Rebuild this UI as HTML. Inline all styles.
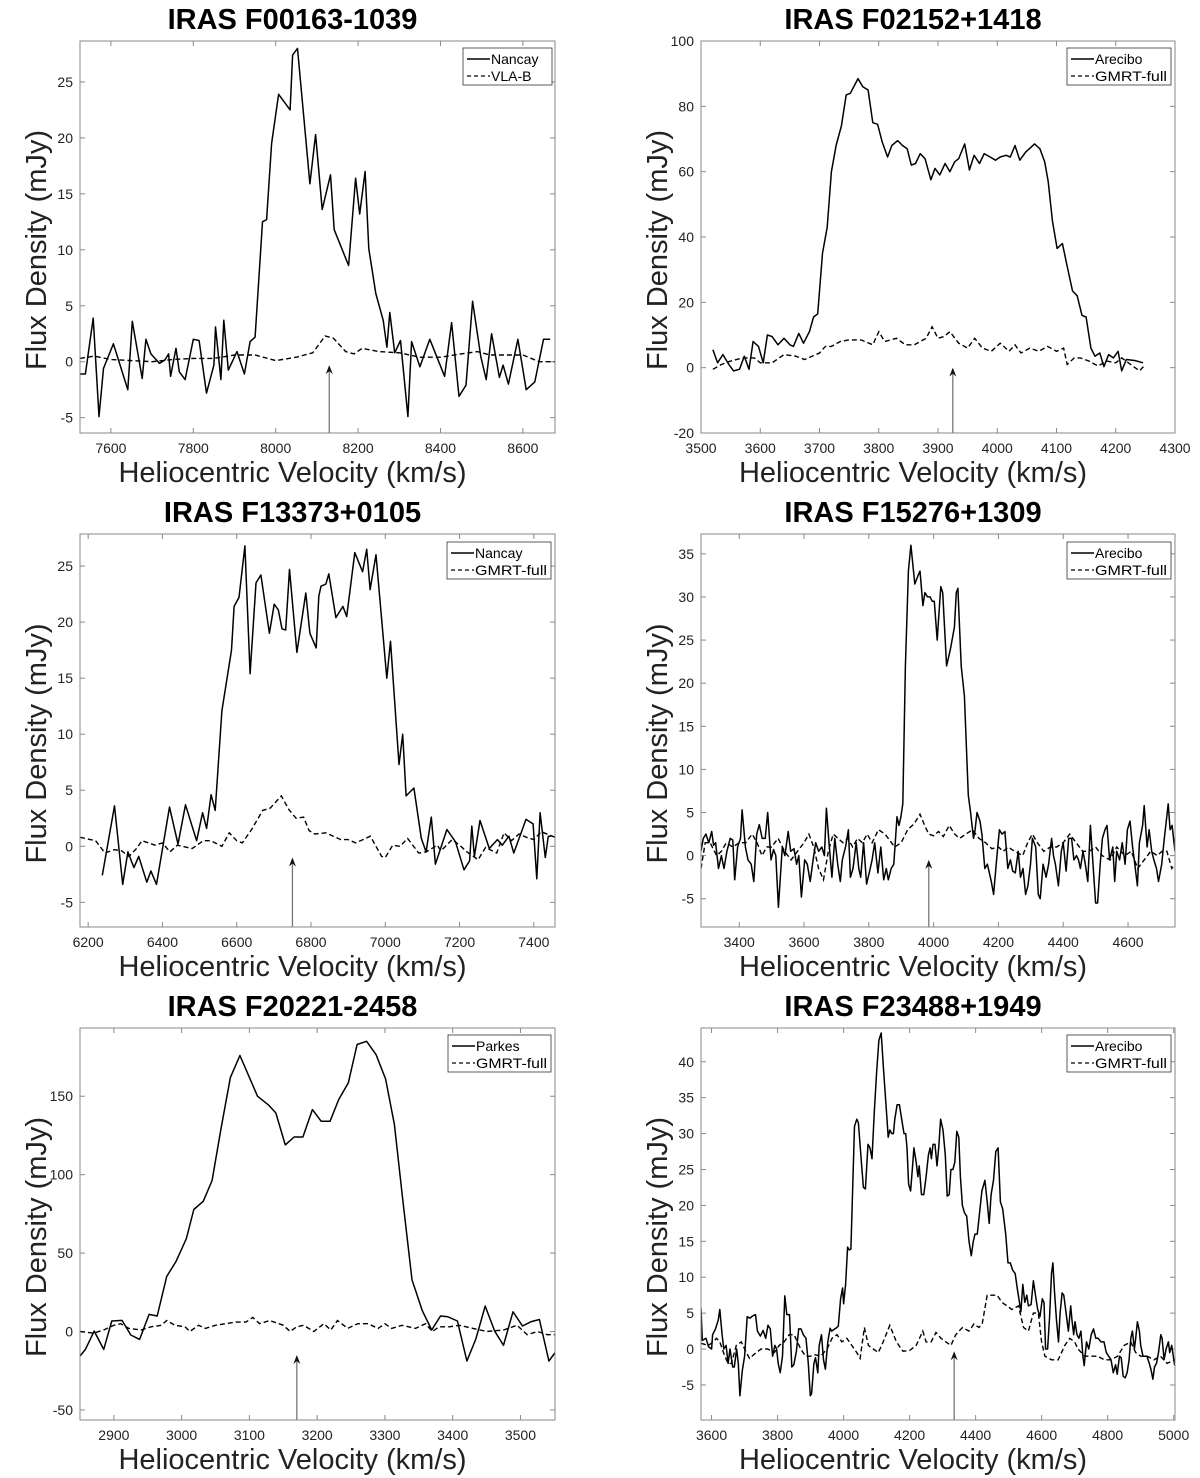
<!DOCTYPE html>
<html><head><meta charset="utf-8">
<style>
html,body{margin:0;padding:0;background:#fff;}
svg{display:block;font-family:"Liberation Sans",Arial,sans-serif;}
</style></head>
<body>
<svg id="fig" width="1200" height="1478" viewBox="0 0 1200 1478" xmlns="http://www.w3.org/2000/svg"></svg>
<script>
// ---------- Panel 1: IRAS F00163-1039 ----------
const p1SolidV = [7524,7538,7557,7571,7582,7606,7641,7652,7676,7685,7697,7718,7731,7740,7745,7758,7766,7780,7800,7814,7832,7850,7854,7867,7874,7885,7906,7924,7938,7950,7968,7978,7990,8007,8035,8041,8053,8083,8097,8113,8133,8142,8177,8194,8204,8217,8226,8243,8261,8270,8277,8289,8303,8321,8330,8350,8374,8410,8427,8445,8462,8478,8498,8511,8524,8543,8552,8565,8588,8608,8629,8650,8666];
const p1SolidF = [-1.1,-1.1,3.9,-4.9,-0.6,1.6,-2.5,3.6,-1.5,2,0.7,-0.15,0.15,0.7,-1.3,1.2,-0.9,-1.6,2,1.9,-2.8,-0.3,3.1,-1.6,3.7,-0.75,0.9,-1.1,1.8,2.2,12.5,12.7,19.5,23.9,22.5,27.4,28,15.9,20.3,13.6,16.7,11.8,8.6,16.4,13.2,17,10.1,6.1,3.7,1.3,4.4,0.8,1.9,-4.9,1.8,-0.45,2,-1.3,3.5,-3.1,-2.1,5.4,0.45,-1.6,2.5,-1.4,-0.3,-2,2,-2.5,-1.8,2,2];
const p1DashV = [7525,7560,7600,7650,7700,7750,7800,7850,7900,7950,8000,8050,8090,8120,8140,8170,8190,8210,8250,8300,8350,8400,8450,8490,8520,8560,8600,8640,8678];
const p1DashF = [0.3,0.5,0.2,0.1,0.0,0.2,0.3,0.3,0.6,0.6,0.1,0.4,0.8,2.3,2.1,0.9,0.7,1.2,0.9,0.8,0.4,0.4,0.7,0.9,0.6,0.6,0.6,0.0,0.0];
const p1XTicks = [7600,7800,8000,8200,8400,8600];
const p1YTicks = [-5,0,5,10,15,20,25];

// ---------- Panel 2: IRAS F02152+1418 ----------
const p2SolidV = [3520,3528,3537,3547,3555,3565,3573,3581,3588,3597,3605,3612,3620,3630,3640,3650,3656,3665,3673,3683,3690,3697,3705,3713,3720,3728,3737,3745,3752,3765,3773,3782,3790,3798,3806,3815,3822,3832,3840,3848,3855,3862,3870,3878,3888,3895,3903,3912,3920,3928,3935,3945,3953,3961,3970,3978,3988,3997,4005,4015,4022,4030,4038,4048,4063,4072,4080,4086,4093,4101,4110,4118,4127,4135,4143,4150,4158,4165,4173,4180,4188,4196,4204,4210,4218,4232,4246];
const p2SolidF = [5.5,1.5,4,1,-1,-0.5,3.5,-0.5,8,6.5,1.5,10,9.5,7,9,7,6.5,10.5,7.5,11,15.5,16.5,35,43,60,68,74,83.5,84,88.5,86,85,75,74.5,69,64.5,68,69.5,68,67,62,62.5,65.5,64,57.5,61,59,62.5,60,63,64,68.5,60.5,65,62.5,65.5,64.5,63.5,64.5,65,64.5,68,63.5,66,68.5,67,63,57,45,36.5,38,31,23.5,22,16,15.5,6,3.5,4.5,0.3,4,3,5,-1,2.5,2.2,1.5];
const p2DashV = [3520,3535,3550,3570,3590,3600,3620,3640,3660,3675,3700,3710,3720,3735,3750,3770,3790,3800,3810,3830,3845,3860,3880,3890,3900,3910,3920,3935,3950,3962,3975,3990,4005,4020,4030,4040,4055,4070,4085,4100,4112,4118,4130,4140,4155,4170,4185,4200,4210,4225,4240,4250];
const p2DashF = [-0.5,1,2,3,3,1.5,1.5,4,3.5,2.5,4.5,6.5,6.5,8,8.5,8.5,7,11,8,9,7,7,9,12.5,9,9.5,11,7.5,6,9,6,5,7.5,5,7,4.5,6,5,6.5,5,6,1,3,3,2,0.5,2,1.5,3,1,-1,1];
const p2XTicks = [3500,3600,3700,3800,3900,4000,4100,4200,4300];
const p2YTicks = [-20,0,20,40,60,80,100];

// ---------- Panel 3: IRAS F13373+0105 ----------
const p3SolidV = [6238,6271,6293,6307,6323,6336,6358,6369,6384,6419,6442,6462,6492,6508,6519,6531,6542,6560,6586,6593,6606,6622,6636,6652,6665,6688,6701,6712,6722,6732,6742,6762,6786,6797,6814,6821,6827,6840,6848,6867,6886,6896,6918,6939,6950,6959,6975,7004,7014,7037,7047,7056,7077,7097,7110,7124,7135,7166,7189,7212,7227,7233,7240,7255,7280,7302,7315,7333,7346,7379,7398,7408,7417,7431,7439,7446];
const p3SolidF = [-2.6,3.6,-3.4,-0.5,-1.9,-0.9,-3.2,-2.2,-3.4,3.5,0.2,3.7,0.5,3,1.6,4.6,3.2,12.1,17.5,21.4,22.2,26.8,15.4,23.5,24.2,19,21.6,21.1,19.4,19.3,24.7,17.3,22.6,19,17.7,22.3,23.2,23.4,24.3,20.4,21.4,20.5,26.2,24.5,26.5,22.9,26,15,18.3,7.3,10,4.5,5.2,0.7,-0.5,2.6,-1.6,1.5,0.4,-2.1,-1.3,1.8,-0.9,2.3,-0.2,0.6,0.1,0.9,-0.6,2.4,2,-2.9,3,-1,0.9,0.9];
const p3DashV = [6178,6220,6245,6270,6290,6310,6330,6345,6380,6400,6420,6440,6480,6510,6530,6560,6580,6600,6615,6640,6670,6690,6720,6740,6760,6780,6795,6810,6840,6860,6880,6900,6920,6940,6960,6990,7000,7020,7040,7060,7090,7110,7140,7150,7180,7200,7220,7250,7270,7300,7320,7340,7360,7380,7400,7420,7457];
const p3DashF = [0.8,0.5,-0.6,-0.3,-0.4,-0.9,-0.2,0.5,0.1,0.3,-0.5,0.1,-0.2,0.5,0.5,0,1.2,0.5,0.3,1.5,3.2,3.4,4.5,3.3,2.5,2.6,1.4,1.1,1.2,0.9,0.6,0.6,0.3,0.6,0.9,-0.9,-1,0.1,0,0.7,-0.6,-0.5,0.1,-0.4,0.6,0.1,-0.5,-1.2,-0.1,-0.6,1.2,0.5,1.1,0.8,0.6,1.3,0.8];
const p3XTicks = [6200,6400,6600,6800,7000,7200,7400];
const p3YTicks = [-5,0,5,10,15,20,25];

// ---------- Panel 4: IRAS F15276+1309 ----------
const p4SolidV = [3282,3289,3297,3306,3315,3321,3327,3336,3345,3353,3362,3372,3380,3386,3395,3404,3409,3419,3427,3437,3445,3454,3462,3471,3480,3488,3498,3506,3513,3521,3533,3541,3551,3559,3569,3577,3584,3592,3602,3610,3619,3628,3636,3645,3655,3663,3669,3677,3686,3695,3704,3712,3718,3728,3737,3743,3751,3761,3769,3775,3784,3793,3801,3810,3818,3828,3837,3846,3854,3860,3869,3877,3887,3893,3899,3905,3913,3922,3930,3938,3942,3952,3958,3967,3973,3981,3989,3996,4002,4011,4018,4022,4028,4040,4052,4064,4070,4075,4085,4095,4107,4114,4123,4128,4134,4143,4149,4158,4166,4178,4185,4193,4203,4211,4220,4229,4237,4244,4252,4261,4268,4276,4284,4291,4299,4305,4315,4323,4329,4338,4347,4355,4364,4370,4376,4385,4394,4400,4409,4417,4426,4433,4441,4447,4453,4461,4468,4476,4484,4492,4500,4506,4514,4521,4529,4535,4543,4553,4559,4565,4574,4582,4591,4598,4606,4614,4621,4629,4635,4645,4650,4659,4665,4673,4680,4688,4694,4704,4712,4718,4724,4730,4736,4745];
const p4SolidF = [0.5,2,2.5,1.5,2.8,1.2,1.5,-1.5,0,-1.5,0.5,2,1.8,-2.8,1,2,5.3,1,-0.5,-1,-3,2.5,3.6,2,2,5,-0.5,0.7,0,-6,1,0,2.8,0.5,0.8,-1,0,-4.8,-0.5,-1,-3,-0.5,1.5,0.5,1,0,5.5,1.5,-2.5,2,-1,-3,-0.5,1,3,-2.5,-1.5,1.5,-1.5,-2.5,1.5,-3.3,-2,-0.5,1.5,-2,1,-2.8,-1.5,-2.8,-1.5,-1,4.5,3.5,4.5,6,22,33,36,33,31.5,32.5,33,29,30.5,30,30,29.5,29.5,25,29,31.2,30.5,22,24,26.5,30.5,31,22,18.5,7,5,2,3,5,4,2.5,-1.5,-1,-3,-4.5,-1,3,2.5,2.8,-1.5,-0.5,-1.8,-2,0.5,-2.5,-1.5,-4.5,-3.5,-1,2,1,-4.5,-5,-1,-2.5,-1,2,0,-1,-3.5,0.5,1.5,-1.8,2,2,-0.5,0,-0.5,-1.5,0.5,-1,-3,3.5,-1,-5.5,-5.5,-1,2,3,3.5,-0.5,1,-3,0.5,-0.5,1.5,-1,3,4,1,-1,-3.5,1.5,3.5,5.8,1,3,0.5,-0.5,-1.5,-3,-1,2,4,6,3,3.5,0.5];
const p4DashV = [3282,3295,3310,3330,3345,3360,3380,3400,3420,3440,3455,3470,3485,3500,3520,3540,3560,3580,3600,3615,3630,3645,3660,3675,3690,3705,3720,3735,3750,3765,3780,3795,3810,3830,3850,3860,3880,3900,3920,3940,3958,3972,3985,4000,4015,4030,4048,4065,4080,4100,4120,4140,4160,4180,4200,4215,4230,4250,4275,4290,4305,4320,4340,4360,4380,4400,4420,4440,4460,4480,4500,4520,4545,4565,4590,4610,4630,4650,4670,4690,4705,4720,4735,4745];
const p4DashF = [-1.5,1.5,1.5,0,0.5,1.5,1,1.5,1.5,2.5,1.5,0,1,1,2,0.5,-0.5,0.5,1.5,2.5,1,-1.5,-2.8,0.5,2.5,2,1.5,2,1,2,1.5,2.5,1.5,3,2.5,2,1,1.5,3,3.7,4.8,3.5,2.5,2.3,2.8,2.2,3.5,2.5,2,2.5,3,2,1.5,0.8,1,0.5,1,0.5,0,1.5,2.5,1.5,0.5,1,1,1.5,2.5,1.5,0.5,0.5,1,0,-0.5,1,0,0.5,-1.5,-0.5,0.5,0,0.5,0.5,-1.5,-1];
const p4XTicks = [3400,3600,3800,4000,4200,4400,4600];
const p4YTicks = [-5,0,5,10,15,20,25,30,35];

// ---------- Panel 5: IRAS F20221-2458 ----------
const p5SolidV = [2850,2858,2871,2885,2897,2912,2925,2938,2952,2964,2978,2992,3007,3018,3032,3045,3058,3072,3086,3099,3112,3128,3139,3153,3166,3179,3193,3206,3219,3232,3246,3259,3273,3287,3301,3314,3326,3340,3355,3369,3382,3393,3407,3421,3434,3448,3462,3475,3489,3503,3516,3528,3542,3551];
const p5SolidF = [-15.6,-11.4,0.3,-11.4,6.7,7.1,-2.2,-5,10.9,9.9,35.1,44.9,59.3,77.8,83.1,96.3,129,162,176,163,150,144.5,139.4,119,124,124,141.5,134,134,148,158.5,183,185,176.5,161,132,85.5,33,13.5,1,9.9,9.4,6.7,-18.8,-5,16.2,0.3,-8.8,12.6,3.5,6.3,7.7,-18.8,-13.5];
const p5DashV = [2850,2870,2885,2900,2910,2922,2940,2955,2970,2978,2990,3005,3012,3025,3035,3050,3065,3080,3095,3105,3115,3130,3150,3160,3170,3180,3195,3210,3220,3230,3245,3260,3275,3290,3300,3310,3325,3345,3360,3370,3380,3395,3410,3430,3450,3475,3495,3510,3525,3540,3551];
const p5DashF = [0,-1,1,4,5,2,1,3,4,7,4,3,0,4,2,4,5,6,6,9,5,7,4,0,3,4,0,5,1,7,2,5,5,2,5,2,4,2,5,0,3,3,4,2,0,1,4,-2,0,-2,-2];
const p5XTicks = [2900,3000,3100,3200,3300,3400,3500];
const p5YTicks = [-50,0,50,100,150];

// ---------- Panel 6: IRAS F23488+1949 ----------
const p6SolidV = [3568,3572,3583,3591,3600,3603,3612,3620,3625,3632,3637,3644,3650,3656,3664,3669,3676,3681,3686,3693,3700,3708,3716,3724,3733,3739,3748,3756,3764,3771,3778,3785,3792,3797,3802,3808,3815,3822,3828,3836,3843,3849,3857,3864,3871,3878,3886,3893,3899,3903,3910,3915,3922,3926,3933,3939,3945,3952,3959,3964,3970,3977,3984,3991,3997,4000,4006,4012,4017,4022,4028,4033,4040,4045,4054,4060,4066,4074,4080,4086,4093,4100,4107,4114,4121,4130,4135,4140,4146,4151,4155,4162,4169,4176,4183,4188,4192,4197,4203,4209,4213,4220,4225,4229,4236,4243,4250,4257,4262,4266,4271,4277,4283,4288,4294,4301,4308,4314,4320,4325,4331,4337,4343,4349,4354,4360,4366,4373,4380,4387,4393,4398,4405,4412,4419,4428,4435,4441,4447,4454,4461,4468,4475,4482,4491,4498,4505,4512,4520,4526,4531,4537,4543,4549,4555,4560,4568,4575,4583,4588,4595,4602,4607,4612,4618,4624,4630,4634,4639,4645,4651,4656,4662,4667,4674,4681,4688,4692,4697,4701,4707,4713,4719,4725,4729,4736,4743,4750,4757,4764,4771,4780,4789,4796,4803,4810,4817,4824,4829,4836,4841,4847,4853,4859,4865,4870,4875,4881,4885,4890,4896,4900,4907,4913,4919,4926,4932,4937,4942,4948,4954,4961,4965,4971,4977,4984,4988,4994,5003];
const p6SolidF = [5.7,1.2,1.5,0.3,0,2,2.8,4,5.5,2,0,0.5,-2,0,-2.5,-2.5,0,-2,-6.5,-3,-1,4.5,4.3,4.6,4.8,2.5,1.8,2.6,1.5,3.3,2.8,-1,0.5,0,-2,-3.3,-1,7.4,4.8,4.8,-2.5,-2.2,-0.3,2.8,2.8,2,1.5,-2,-6.5,-6.2,-2,-1.2,-3.3,0.5,2,-1.5,-2.8,1,2.9,2.5,2.7,2.9,3.2,7,8.5,6.3,9,14.2,13.8,13.9,23,31,32,31.5,26,22.5,22.3,28.5,28,26.5,33,38.5,43,44,39,33,29.5,30.5,30,30,32,34,34,32,30,30,28,23,22,25.5,28,26,24,25.5,21.5,21.5,24,27,28,26.5,28.5,28.5,25.5,28,32,30.5,27,21.3,21.5,25,25,26,30.3,29.5,24,20,19,18.5,15,13,15,16,16,19,22,23.5,20.5,17.5,21.5,23.5,27.5,28,20.5,19.5,16,12,12,11,10.5,8.5,7,5.2,9,6.5,7.5,6,6.2,9.5,7,5.5,4.5,7,6.5,0,0,4.5,10.5,12,8,4,1,5,7.8,7.5,5,2.5,6,4,2,3.8,2,1.5,2.5,-1,-2.3,1,0,2,2.8,1.5,1.5,1,1,-0.5,-1,-1.5,-3.3,-2.2,-3.5,-1,-1.2,-3.8,-4,-3.3,-1.5,1.5,2.5,0,1.5,3.8,2.5,0.5,-1,-1,-1,-2,-3,-4.2,-2.5,-2,-0.5,2,1.5,-1.5,0,1,-0.5,0.5,-2.3];
const p6DashV = [3568,3590,3605,3615,3625,3640,3650,3660,3675,3690,3700,3715,3735,3750,3770,3790,3805,3820,3835,3850,3870,3885,3900,3915,3930,3950,3965,3980,3995,4010,4025,4040,4050,4063,4075,4090,4105,4120,4140,4160,4180,4200,4220,4240,4250,4265,4280,4295,4310,4325,4340,4360,4380,4395,4410,4420,4435,4450,4465,4480,4495,4510,4530,4545,4560,4575,4590,4600,4610,4630,4650,4670,4685,4700,4710,4730,4750,4770,4790,4810,4830,4850,4870,4885,4900,4920,4940,4960,4980,5003];
const p6DashF = [0.8,0.5,1,1.5,1,-1,-2,-2,0.5,1,0,-1.3,-0.5,0,0,-0.5,0.5,1,2,2,0,-1,-1,-0.8,-1,0,1.5,2,1,1.5,0.5,-0.5,-1.3,3,0.5,0,-0.5,1,3.3,1,-0.3,-0.2,0.5,2.5,1,1,2.3,1.5,1,0.5,2,3,2.5,3.5,3,3.5,7.5,7.5,7.5,6.5,6,5.5,6,3,2.5,5,5,1,-1,-1.5,-1.5,0.5,1.5,1,0,-1,-1,-1,-1.5,-1.5,-1,0.5,1,-0.5,-1,-1,-1.5,-1,-2,-1.5];
const p6XTicks = [3600,3800,4000,4200,4400,4600,4800,5000];
const p6YTicks = [-5,0,5,10,15,20,25,30,35,40];

const NS = 'http://www.w3.org/2000/svg';
const svg = document.getElementById('fig');
function mk(tag, attrs, parent) {
  const e = document.createElementNS(NS, tag);
  for (const k in attrs) e.setAttribute(k, attrs[k]);
  (parent || svg).appendChild(e);
  return e;
}

const panels = [
  {id:'p1', title:'IRAS F00163-1039', L:80, R:555, T:41, B:433, xr:[7525,8678], yr:[-6.37,28.66], xt:p1XTicks, yt:p1YTicks, sv:p1SolidV, sf:p1SolidF, dv:p1DashV, df:p1DashF, l1:'Nancay', l2:'VLA-B', arrowV:8130, arrowTip:-0.3, leg:[463,48,552,85]},
  {id:'p2', title:'IRAS F02152+1418', L:701, R:1175, T:41, B:433, xr:[3500,4300], yr:[-20,100], xt:p2XTicks, yt:p2YTicks, sv:p2SolidV, sf:p2SolidF, dv:p2DashV, df:p2DashF, l1:'Arecibo', l2:'GMRT-full', arrowV:3925, arrowTip:0, leg:[1067,48,1171,85]},
  {id:'p3', title:'IRAS F13373+0105', L:80, R:555, T:534, B:927, xr:[6178,7457], yr:[-7.2,27.86], xt:p3XTicks, yt:p3YTicks, sv:p3SolidV, sf:p3SolidF, dv:p3DashV, df:p3DashF, l1:'Nancay', l2:'GMRT-full', arrowV:6750, arrowTip:-1.0, leg:[447,542,551,579]},
  {id:'p4', title:'IRAS F15276+1309', L:701, R:1175, T:534, B:927, xr:[3282,4745], yr:[-8.28,37.3], xt:p4XTicks, yt:p4YTicks, sv:p4SolidV, sf:p4SolidF, dv:p4DashV, df:p4DashF, l1:'Arecibo', l2:'GMRT-full', arrowV:3985, arrowTip:-0.5, leg:[1067,542,1171,579]},
  {id:'p5', title:'IRAS F20221-2458', L:80, R:555, T:1028, B:1420, xr:[2850,3551], yr:[-56.4,193.5], xt:p5XTicks, yt:p5YTicks, sv:p5SolidV, sf:p5SolidF, dv:p5DashV, df:p5DashF, l1:'Parkes', l2:'GMRT-full', arrowV:3170, arrowTip:-15, leg:[448,1035,551,1072]},
  {id:'p6', title:'IRAS F23488+1949', L:701, R:1175, T:1028, B:1420, xr:[3568,5004], yr:[-9.88,44.7], xt:p6XTicks, yt:p6YTicks, sv:p6SolidV, sf:p6SolidF, dv:p6DashV, df:p6DashF, l1:'Arecibo', l2:'GMRT-full', arrowV:4335, arrowTip:-0.3, leg:[1067,1035,1171,1072]}
];

panels.forEach(function(p){
  const g = mk('g', {});
  
  
  const xs = v => p.L + (v - p.xr[0]) / (p.xr[1] - p.xr[0]) * (p.R - p.L);
  const ys = v => p.B - (v - p.yr[0]) / (p.yr[1] - p.yr[0]) * (p.B - p.T);
  const cx = (p.L + p.R) / 2 - 25;

  const t = mk('text', {x:cx, y:p.T - 12, 'text-anchor':'middle', 'font-size':'29', 'font-weight':'bold', fill:'#000'}, g);
  t.textContent = p.title;
  
  

  const cp = mk('clipPath', {id:'clip-' + p.id}, g);
  mk('rect', {x:p.L, y:p.T, width:p.R - p.L, height:p.B - p.T}, cp);

  p.xt.forEach(function(v){
    const x = xs(v);
    mk('line', {x1:x, y1:p.B, x2:x, y2:p.B - 5, stroke:'#888', 'stroke-width':1}, g);
    mk('line', {x1:x, y1:p.T, x2:x, y2:p.T + 5, stroke:'#888', 'stroke-width':1}, g);
    const tl = mk('text', {x:x, y:p.B + 20, 'text-anchor':'middle', 'font-size':'14', fill:'#222'}, g);
    tl.textContent = v;
    
    
  });
  p.yt.forEach(function(v){
    const y = ys(v);
    mk('line', {x1:p.L, y1:y, x2:p.L + 5, y2:y, stroke:'#888', 'stroke-width':1}, g);
    mk('line', {x1:p.R, y1:y, x2:p.R - 5, y2:y, stroke:'#888', 'stroke-width':1}, g);
    const tl = mk('text', {x:p.L - 7, y:y + 5, 'text-anchor':'end', 'font-size':'14', fill:'#222'}, g);
    tl.textContent = v;
    
    
  });

  const dg = mk('g', {'clip-path':'url(#clip-' + p.id + ')'}, g);
  const ds = p.dv.map((v,i) => (i ? 'L' : 'M') + xs(v).toFixed(1) + ',' + ys(p.df[i]).toFixed(1)).join(' ');
  const dl = mk('path', {d:ds, fill:'none', stroke:'#000', 'stroke-width':1.4, 'stroke-dasharray':'5,3'}, dg);
  
  
  const ss = p.sv.map((v,i) => (i ? 'L' : 'M') + xs(v).toFixed(1) + ',' + ys(p.sf[i]).toFixed(1)).join(' ');
  const sl = mk('path', {d:ss, fill:'none', stroke:'#000', 'stroke-width':1.5, 'stroke-linejoin':'round'}, dg);
  
  

  const ax = xs(p.arrowV), ay = ys(p.arrowTip);
  const ag = mk('g', {}, g);
  
  
  mk('line', {x1:ax, y1:p.B, x2:ax, y2:ay + 2, stroke:'#777', 'stroke-width':1.3}, ag);
  mk('path', {d:'M' + (ax - 3.5) + ',' + (ay + 9) + ' L' + ax + ',' + ay + ' L' + (ax + 3.5) + ',' + (ay + 9) + ' L' + ax + ',' + (ay + 6) + ' Z', fill:'#111'}, ag);

  const fr = mk('rect', {x:p.L, y:p.T, width:p.R - p.L, height:p.B - p.T, fill:'none', stroke:'#888', 'stroke-width':1}, g);
  
  

  const lg = mk('g', {}, g);
  
  
  const [lx0, ly0, lx1, ly1] = p.leg;
  mk('rect', {x:lx0, y:ly0, width:lx1 - lx0, height:ly1 - ly0, fill:'#fff', stroke:'#333', 'stroke-width':0.8}, lg);
  mk('line', {x1:lx0 + 4, y1:ly0 + 11, x2:lx0 + 27, y2:ly0 + 11, stroke:'#000', 'stroke-width':1.5}, lg);
  mk('line', {x1:lx0 + 4, y1:ly0 + 28, x2:lx0 + 27, y2:ly0 + 28, stroke:'#000', 'stroke-width':1.3, 'stroke-dasharray':'4,3'}, lg);
  const e1 = mk('text', {x:lx0 + 28, y:ly0 + 16, 'font-size':'14', fill:'#000'}, lg);
  e1.textContent = p.l1;
  
  
  const e2 = mk('text', {x:lx0 + 28, y:ly0 + 33, 'font-size':'14', fill:'#000', textLength: (lx1 - lx0 - 32), lengthAdjust:'spacingAndGlyphs'}, lg);
  e2.textContent = p.l2;
  if (p.l2 === 'VLA-B') e2.removeAttribute('textLength');
  
  

  const xl = mk('text', {x:cx, y:p.B + 49, 'text-anchor':'middle', 'font-size':'29', fill:'#222'}, g);
  xl.textContent = 'Heliocentric Velocity (km/s)';
  
  
  const yx = p.L - 34, yc = (p.T + p.B) / 2 + 13;
  const yl = mk('text', {x:yx, y:yc, 'text-anchor':'middle', 'font-size':'29', fill:'#222', transform:'rotate(-90 ' + yx + ' ' + yc + ')'}, g);
  yl.textContent = 'Flux Density (mJy)';
  
  
});
</script>
</body></html>
